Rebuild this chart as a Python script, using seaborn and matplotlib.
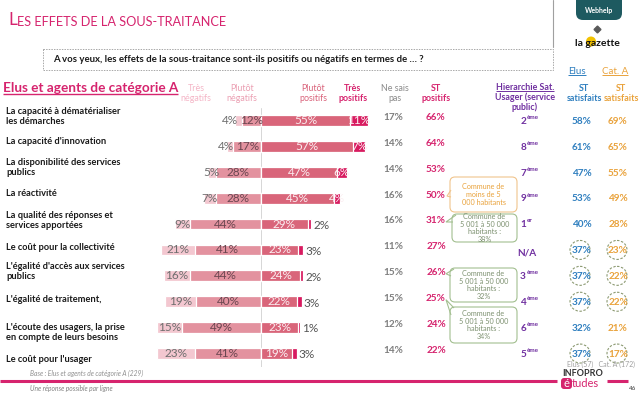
import numpy as np
import pandas as pd
import matplotlib
matplotlib.use("Agg")
import matplotlib.pyplot as plt
import matplotlib.transforms as mtrans
from matplotlib.patches import FancyBboxPatch, Ellipse, Polygon, Circle
import seaborn as sns

# ---------------- data ----------------
categories = [
    "La capacité à dématérialiser\nles démarches",
    "La capacité d'innovation",
    "La disponibilité des services\npublics",
    "La réactivité",
    "La qualité des réponses et\nservices apportées",
    "Le coût pour la collectivité",
    "L'égalité d'accès aux services\npublics",
    "L'égalité de traitement,",
    "L'écoute des usagers, la prise\nen compte de leurs besoins",
    "Le coût pour l'usager",
]
tres_negatifs = [4, 4, 5, 7, 9, 21, 16, 19, 15, 23]
plutot_negatifs = [12, 17, 28, 28, 44, 41, 44, 40, 49, 41]
plutot_positifs = [55, 57, 47, 45, 29, 23, 24, 22, 23, 19]
tres_positifs = [11, 7, 6, 4, 2, 3, 2, 3, 1, 3]
ne_sais_pas = [17, 14, 14, 16, 16, 11, 15, 15, 12, 14]
st_positifs = [66, 64, 53, 50, 31, 27, 26, 25, 24, 22]
rang_num = ["2", "8", "7", "9", "1", "N/A", "3", "4", "6", "5"]
rang_sup = ["ème", "ème", "ème", "ème", "er", "", "ème", "ème", "ème", "ème"]
elus_satisfaits = [58, 61, 47, 53, 40, 37, 37, 37, 32, 37]
cata_satisfaits = [69, 65, 55, 49, 28, 23, 22, 22, 21, 17]
entoure = [False, False, False, False, False, True, True, True, False, True]

callout_rows = [3, 4, 6, 7]
callout_texts = [
    "Commune de\nmoins de 5\n000 habitants",
    "Commune de\n5 001 à 50 000\nhabitants :\n38%",
    "Commune de\n5 001 à 50 000\nhabitants :\n32%",
    "Commune de\n5 001 à 50 000\nhabitants :\n34%",
]

# ---------------- style ----------------
sns.set_style("white")
plt.rcParams['font.family'] = ['Lato', 'DejaVu Sans']

MAG = '#d6246e'
C_TN = '#f3c7d0'
C_PN = '#e3929f'
C_PP = '#d9657a'
C_TP = '#d81b60'
BLUE = '#2f7fbf'
ORANGE = '#e9a23b'
PURPLE = '#7030a0'
GREEN_T = '#7d9170'
GREEN_E = '#a3bf90'
ORANGE_E = '#f0c48c'

W, H = 640, 393
fig = plt.figure(figsize=(6.4, 3.93), dpi=100)
ov = fig.add_axes([0, 0, 1, 1])
ov.set_xlim(0, W)
ov.set_ylim(H, 0)
ov.axis('off')

# bars axes (pixel layout)
ZERO, PXPCT = 261, 1.62
AX_L, AX_R, AX_T, AX_B = 100, 380, 107.5, 366.5
ax = fig.add_axes([AX_L / W, 1 - AX_B / H, (AX_R - AX_L) / W, (AX_B - AX_T) / H])
ax.patch.set_alpha(0)

df = pd.DataFrame({
    'cat': categories,
    'neg_all': -(np.array(tres_negatifs) + np.array(plutot_negatifs)),
    'neg_pn': -np.array(plutot_negatifs),
    'pos_all': np.array(plutot_positifs) + np.array(tres_positifs),
    'pos_pp': np.array(plutot_positifs),
})
kw = dict(y='cat', order=categories, orient='h', width=0.42, saturation=1,
          edgecolor='white', linewidth=0.9, ax=ax)
sns.barplot(data=df, x='neg_all', color=C_TN, **kw)
sns.barplot(data=df, x='neg_pn', color=C_PN, **kw)
sns.barplot(data=df, x='pos_all', color=C_TP, **kw)
sns.barplot(data=df, x='pos_pp', color=C_PP, **kw)
ax.set_xlim((AX_L - ZERO) / PXPCT, (AX_R - ZERO) / PXPCT)
ax.set_ylim(len(categories) - 0.5, -0.5)
ax.axis('off')
ax.axvline(0, color='#d6d6d6', lw=0.7, zorder=0)

for i in range(len(categories)):
    tn, pn, pp, tp = tres_negatifs[i], plutot_negatifs[i], plutot_positifs[i], tres_positifs[i]
    x_tn = min(-(pn + tn / 2), -pn / 2 - 13)
    ax.text(x_tn, i, f"{tn}%", ha='center', va='center', fontsize=8.5, color='#6e6e6e')
    ax.text(-pn / 2, i, f"{pn}%", ha='center', va='center', fontsize=8.5, color='#6b4650')
    ax.text(pp / 2, i, f"{pp}%", ha='center', va='center', fontsize=8.5, color='#fbeef1')
    if tp >= 4:
        ax.text(pp + tp / 2, i, f"{tp}%", ha='center', va='center', fontsize=8.5, color='#fbeef1')
    else:
        ax.text(pp + tp + 1.3, i + 0.05, f"{tp}%", ha='left', va='center', fontsize=8.5, color='#555555')

# row-based text on the right / left
tr = mtrans.blended_transform_factory(ov.transData, ax.transData)
label_dy = [-0.17, -0.17, -0.2, -0.17, -0.15, -0.08, -0.15, -0.08, 0.2, 0.23]
for i, c in enumerate(categories):
    ov.text(6, i + label_dy[i], c, transform=tr, ha='left', va='center', fontsize=6.7,
            fontweight='bold', color='#1a1a1a', linespacing=1.15)
    ov.text(393, i - 0.12, f"{ne_sais_pas[i]}%", transform=tr, ha='center', va='center',
            fontsize=7.2, color='#7f7f7f', fontweight='bold')
    ov.text(436, i - 0.12, f"{st_positifs[i]}%", transform=tr, ha='center', va='center',
            fontsize=7.2, color=MAG, fontweight='bold')
    if rang_sup[i]:
        ov.text(526, i + 0.03, rang_num[i], transform=tr, ha='right', va='center',
                fontsize=7.2, color=PURPLE, fontweight='bold')
        ov.text(526.5, i - 0.12, rang_sup[i], transform=tr, ha='left', va='center',
                fontsize=4.6, color=PURPLE, fontweight='bold')
    else:
        ov.text(527, i + 0.1, rang_num[i], transform=tr, ha='center', va='center',
                fontsize=7.2, color=PURPLE, fontweight='bold')
    ov.text(582, i + 0.03, f"{elus_satisfaits[i]}%", transform=tr, ha='center', va='center',
            fontsize=7.2, color=BLUE, fontweight='bold')
    ov.text(618, i + 0.03, f"{cata_satisfaits[i]}%", transform=tr, ha='center', va='center',
            fontsize=7.2, color=ORANGE, fontweight='bold')

# dashed circles
def row_px(row, dy=0.0):
    disp = ax.transData.transform((0, row + dy))
    return ov.transData.inverted().transform(disp)[1]

for i, flag in enumerate(entoure):
    if flag:
        yy = row_px(i)
        for xc in (580, 617):
            ov.add_patch(Ellipse((xc, yy), 20, 19, fill=False, ec='#8c9a72', lw=0.8, ls=(0, (2.2, 1.5))))

# callouts
boxes = [(450, 177, 517, 212), (452, 214, 517, 242), (450, 268, 517, 302), (450, 307, 517, 343)]
for k, row in enumerate(callout_rows):
    x0, y0, x1, y1 = boxes[k]
    ec = ORANGE_E if k == 0 else GREEN_E
    tc = ORANGE if k == 0 else GREEN_T
    tip_y = row_px(row, -0.08)
    if k == 0:
        pts = [(x0 + 1, y0 + 13), (447, tip_y), (x0 + 1, y0 + 20)]
    else:
        pts = [(x0 + 4, y0 + 1), (446, tip_y), (x0 + 1, y0 + 8)]
    ov.add_patch(Polygon(pts, closed=False, fill=False, ec=ec, lw=0.8, zorder=3))
    ov.add_patch(FancyBboxPatch((x0, y0), x1 - x0, y1 - y0, boxstyle="round,pad=0,rounding_size=5",
                                fc='white', ec=ec, lw=0.8, zorder=2))
    ov.text((x0 + x1) / 2, (y0 + y1) / 2, callout_texts[k], ha='center', va='center',
            fontsize=5.2, color=tc, linespacing=1.15, zorder=4)

# ---------------- headers ----------------
t_L = ov.text(8, 25, "L", fontsize=12.5, color=MAG, va='baseline', ha='left')
ov.annotate("ES EFFETS DE LA SOUS-TRAITANCE", xy=(1, 0), xycoords=t_L, va='bottom', ha='left',
            fontsize=9.2, color=MAG)

ov.add_patch(FancyBboxPatch((43, 49), 510, 21, boxstyle="square,pad=0", fill=False,
                            ec='#a8a8a8', lw=0.7, ls=(0, (1.5, 1.2))))
ov.plot([553, 553], [0, 47], color='#a0a0a0', lw=0.8)
ov.text(53, 59.5, "A vos yeux, les effets de la sous-traitance sont-ils positifs ou négatifs en termes de … ?",
        fontsize=6.9, color='#1a1a1a', va='center', ha='left', fontweight='bold')

t_sec = ov.text(3, 88, "Elus et agents de catégorie A", fontsize=9.8, fontweight='bold', color=MAG,
                va='center', ha='left')

hdr = dict(fontsize=6.4, va='center', ha='center', linespacing=1.05)
ov.text(196, 93.5, "Très\nnégatifs", color='#f4b5c6', **hdr)
ov.text(242, 93.5, "Plutôt\nnégatifs", color='#eb9fb2', **hdr)
ov.text(313, 93.5, "Plutôt\npositifs", color='#d9627a', **hdr)
ov.text(353, 93.5, "Très\npositifs", color=MAG, fontweight='bold', **hdr)
ov.text(395, 93.5, "Ne sais\npas", color='#8a8a8a', **hdr)
ov.text(436, 93.5, "ST\npositifs", color=MAG, fontweight='bold', **hdr)
t_hier = ov.text(525, 87, "Hierarchie Sat.", color=PURPLE, fontweight='bold', fontsize=6.4,
                 va='center', ha='center')
ov.text(525, 102.5, "Usager (service\npublic)", color=PURPLE, fontweight='bold', **hdr)
ov.text(584, 93.5, "ST\nsatisfaits", color=BLUE, fontweight='bold', **hdr)
ov.text(621, 93.5, "ST\nsatisfaits", color=ORANGE, fontweight='bold', **hdr)
t_elus = ov.text(577, 71, "Elus", color=BLUE, fontsize=7, va='center', ha='center')
t_cata = ov.text(615, 71, "Cat. A", color=ORANGE, fontsize=7, va='center', ha='center')

# logos
ov.add_patch(FancyBboxPatch((576, -8), 46, 28, boxstyle="round,pad=0,rounding_size=7",
                            fc='#1e5a60', ec='none'))
ov.text(599, 11, "Webhelp", color='white', fontsize=5, fontweight='bold', ha='center', va='center')
ov.plot([597], [28.5], marker='D', ms=3.5, color='#5a5a5a')
ov.add_patch(Circle((591, 41.5), 5, fc='#f2c200', ec='none'))
ov.text(597, 43, "la gazette", color='#111111', fontsize=7.5, fontweight='bold', ha='center', va='center')

# footer
ov.text(30, 373, "Base : Elus et agents de catégorie A (229)", fontsize=4.8, style='italic',
        color='#909090', va='center', ha='left')
ov.plot([0, 557], [381, 381], color=MAG, lw=2.2, solid_capstyle='butt')
ov.plot([607, 628], [381, 381], color=MAG, lw=2.2, solid_capstyle='butt')
ov.text(30, 388, "Une réponse possible par ligne", fontsize=4.8, style='italic', color='#808080',
        va='center', ha='left')
ov.text(601, 364.5, "Elus (57)   Cat. A (172)", fontsize=5, color='#a0a0a0', ha='center', va='center')
ov.text(583, 374, "INFOPRO", fontsize=6.5, fontweight='bold', color='#333333', ha='center', va='center')
ov.add_patch(FancyBboxPatch((561, 378), 11, 11, boxstyle="round,pad=0,rounding_size=3",
                            fc=MAG, ec='none'))
ov.text(566.5, 383.5, "é", fontsize=8, color='white', ha='center', va='center')
ov.text(572, 383.5, "tudes", fontsize=8, color=MAG, ha='left', va='center')
ov.text(633, 389, "46", fontsize=4.5, color='#333333', ha='center', va='center')

# underlines
fig.canvas.draw()
rend = fig.canvas.get_renderer()
inv = ov.transData.inverted()
def underline(t, color, lw=0.8):
    bb = t.get_window_extent(rend)
    (xa, ya), (xb, yb) = inv.transform([(bb.x0, bb.y0), (bb.x1, bb.y0)])
    ov.plot([xa, xb], [ya - 0.5, ya - 0.5], color=color, lw=lw, solid_capstyle='butt')

underline(t_sec, MAG, 1.0)
underline(t_hier, PURPLE, 0.7)
underline(t_elus, BLUE, 0.7)
underline(t_cata, ORANGE, 0.7)

fig.savefig("out.png", dpi=100)
